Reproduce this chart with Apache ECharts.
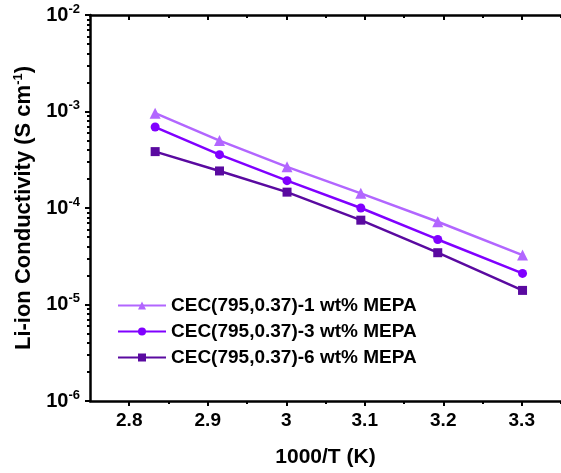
<!DOCTYPE html>
<html><head><meta charset="utf-8">
<script src="https://cdn.jsdelivr.net/npm/echarts@6/dist/echarts.min.js"></script>
<style>html,body{margin:0;padding:0;background:#fff}#c{width:561px;height:473px}</style>
</head><body><div id="c"></div>
<script>
var invT = [2.833, 2.915, 3.001, 3.095, 3.193, 3.301];
var names = ['CEC(795,0.37)-1 wt% MEPA', 'CEC(795,0.37)-3 wt% MEPA', 'CEC(795,0.37)-6 wt% MEPA'];
var cond1 = [9.6e-4, 5.0e-4, 2.67e-4, 1.42e-4, 7.2e-5, 3.25e-5];
var cond3 = [6.9e-4, 3.57e-4, 1.92e-4, 1.0e-4, 4.72e-5, 2.1e-5];
var cond6 = [3.84e-4, 2.42e-4, 1.46e-4, 7.48e-5, 3.44e-5, 1.40e-5];
var xMajor = [2.8, 2.9, 3.0, 3.1, 3.2, 3.3];
var xMinor = [2.85, 2.95, 3.05, 3.15, 3.25, 3.35];
var yMajor = [1e-6, 1e-5, 1e-4, 1e-3, 1e-2];
var yMinor = [];
[1e-6, 1e-5, 1e-4, 1e-3].forEach(function (d) { for (var k = 2; k <= 9; k++) yMinor.push(d * k); });

var colors = ['#b266ff', '#8000ff', '#5a0aa0'];
var symbols = ['triangle', 'circle', 'rect'];
var datasets = [cond1, cond3, cond6];
var FONT = 'Liberation Sans, Arial, sans-serif';
var AXW = 2.5;

function pair(xs, ys) { return xs.map(function (x, i) { return [x, ys[i]]; }); }

var xBase = { type: 'value', min: 2.75, max: 3.35, gridIndex: 0, splitLine: { show: false } };
function xAx(pos, custom, len, inside, labels, line) {
  return Object.assign({}, xBase, {
    position: pos,
    axisLine: { show: line, lineStyle: { color: '#000', width: AXW } },
    axisTick: { show: true, customValues: custom, length: len, inside: inside, lineStyle: { color: '#000', width: 2 } },
    axisLabel: labels ? { show: true, customValues: xMajor, color: '#000', fontFamily: FONT, fontWeight: 'bold', fontSize: 19, margin: 10,
      formatter: function (v) { return String(Math.round(v * 10) / 10); } } : { show: false }
  });
}
var yBase = { type: 'log', logBase: 10, min: 1e-6, max: 1e-2, gridIndex: 0, splitLine: { show: false }, position: 'left' };
function yAx(custom, len, labels, line) {
  return Object.assign({}, yBase, {
    axisLine: { show: line, lineStyle: { color: '#000', width: AXW } },
    axisTick: { show: true, customValues: custom, length: len, lineStyle: { color: '#000', width: 2 } },
    axisLabel: labels ? { show: true, customValues: yMajor, margin: 10,
      formatter: function (v) { var e = Math.round(Math.log10(v)); return '{b|10}{s|' + e + '}'; },
      rich: { b: { fontFamily: FONT, fontWeight: 'bold', fontSize: 20, color: '#000' },
              s: { fontFamily: FONT, fontWeight: 'bold', fontSize: 13, color: '#000', verticalAlign: 'top', padding: [0, 0, 12, 0] } } } : { show: false }
  });
}

var xAxes = [
  Object.assign(xAx('bottom', xMajor, 5, false, true, true), {
    name: '1000/T (K)', nameLocation: 'middle', nameGap: 46,
    nameTextStyle: { fontFamily: FONT, fontWeight: 'bold', fontSize: 21, color: '#000' }
  }),
  xAx('bottom', xMinor, 3, false, false, false),
  xAx('top', xMajor, 5, true, false, true),
  xAx('top', xMinor, 3, true, false, false)
];
var yAxes = [
  Object.assign(yAx(yMajor, 5, true, true), {
    name: '{t|Li-ion Conductivity (S cm}{s|-1}{t|)}', nameLocation: 'middle', nameGap: 52,
    nameTextStyle: { rich: { t: { fontFamily: FONT, fontWeight: 'bold', fontSize: 22, color: '#000' },
      s: { fontFamily: FONT, fontWeight: 'bold', fontSize: 13, color: '#000', verticalAlign: 'top', padding: [0, 0, 12, 0] } } }
  }),
  yAx(yMinor, 3, false, false)
];

var series = datasets.map(function (d, i) {
  return {
    name: names[i], type: 'line', xAxisIndex: 0, yAxisIndex: 0,
    data: pair(invT, d), symbol: symbols[i], symbolSize: i === 0 ? 11 : 9,
    showAllSymbol: true,
    lineStyle: { color: colors[i], width: 2.5 }, itemStyle: { color: colors[i] }
  };
});

var chart = echarts.init(document.getElementById('c'), null, { renderer: 'canvas' });
chart.setOption({
  animation: false,
  backgroundColor: '#fff',
  grid: { left: 90, top: 15, right: -7, bottom: 71, containLabel: false },
  xAxis: xAxes,
  yAxis: yAxes,
  legend: {
    show: true, orient: 'vertical', left: 112, top: 291, itemGap: 7, itemWidth: 48, itemHeight: 10,
    textStyle: { fontFamily: FONT, fontWeight: 'bold', fontSize: 19, color: '#000', padding: [0, 0, 0, 0] },
    data: names
  },
  series: series
});
</script></body></html>
